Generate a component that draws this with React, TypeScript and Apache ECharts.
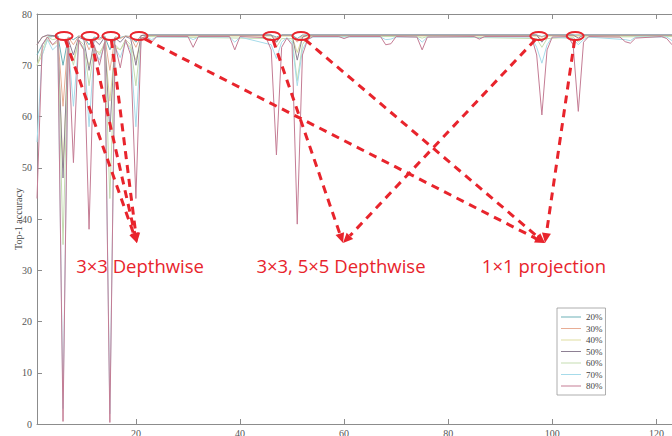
import React, { useEffect, useRef } from 'react';
import * as echarts from 'echarts';

// ---- data (layer index, Top-1 accuracy) ----
const seriesNames = ['20%', '30%', '40%', '50%', '60%', '70%', '80%'];
const seriesColors = ['#6cb0b6', '#e8ad95', '#dedc9e', '#8e8094', '#c4ddb0', '#a6dbea', '#c47c94'];

const s20: number[][] = [[1,72],[2,74],[3,75.5],[4,75.6],[5,75.7],[6,70],[7,75.5],[8,75],[9,75.7],[10,75.5],[11,74],[12,75.5],[13,75.3],[14,75.7],[15,73],[16,75.5],[17,75.4],[18,75.7],[19,75.6],[20,74.5],[21,75.8],[22,75.9],[46,75.9],[47,75.5],[48,75.9],[50,75.9],[51,75.2],[52,75.9],[97,75.9],[98,75.6],[99,75.9],[123,75.9]];
const s30: number[][] = [[1,74],[2,75.5],[3,75.8],[5,75.7],[6,62],[7,75.5],[8,74],[9,75.7],[10,75.5],[11,73],[12,75.3],[13,75],[14,75.6],[15,69],[16,75.5],[17,75.2],[18,75.7],[19,75.5],[20,73.5],[21,75.8],[46,75.8],[47,75.3],[48,75.8],[50,75.8],[51,74.5],[52,75.8],[97,75.8],[98,75.5],[99,75.8],[123,75.8]];
const s40: number[][] = [[1,70],[2,72],[3,75],[4,74],[5,74.5],[6,50],[7,73],[8,71],[9,74.5],[10,73],[11,70],[12,73],[13,72.5],[14,74],[15,63],[16,73.5],[17,73],[18,74.5],[19,73.5],[20,71],[21,75.2],[22,75.7],[46,75.7],[47,74.5],[48,75.7],[50,75.7],[51,72.5],[52,75.5],[53,75.7],[97,75.7],[98,75],[99,75.7],[123,75.7]];
const s50: number[][] = [[1,74],[2,75.5],[3,75.9],[5,75.7],[6,48],[7,75],[8,72],[9,75.5],[10,75],[11,69],[12,75],[13,74],[14,75.5],[15,57],[16,75.3],[17,74.5],[18,75.6],[19,75.2],[20,70],[21,75.8],[22,75.9],[46,75.9],[47,74.5],[48,75.9],[50,75.9],[51,71],[52,75.5],[53,75.9],[97,75.9],[98,74.5],[99,75.9],[104,75.9],[105,75.3],[106,75.9],[123,75.9]];
const s60: number[][] = [[1,70],[2,73],[3,75.5],[4,75],[5,75.2],[6,35],[7,74],[8,70],[9,75],[10,74],[11,66],[12,73.5],[13,72],[14,74.5],[15,44],[16,74],[17,73],[18,75],[19,74],[20,66],[21,75.3],[22,75.6],[46,75.2],[47,73.5],[48,75.2],[50,75.2],[51,67],[52,74],[53,75.6],[74,75.6],[75,75.3],[76,75.6],[97,75.2],[98,73.5],[99,75.2],[104,75.5],[105,74.5],[106,75.5],[123,75.6]];
const s70: number[][] = [[1,55],[2,72],[3,75],[4,73],[5,74],[6,3],[7,74],[8,62],[9,74.5],[10,73.5],[11,58],[12,73],[13,71],[14,74],[15,2],[16,73.5],[17,71.5],[18,74.5],[19,73],[20,58],[21,75],[22,75.5],[23,75],[24,75.5],[30,75.5],[31,75],[32,75.5],[38,75.5],[39,74.5],[40,75.5],[46,74],[47,71.3],[48,74.5],[49,75.4],[50,74.5],[51,66],[52,73],[53,75],[54,75.5],[67,75.5],[68,75],[69,75.1],[70,75.5],[74,75.5],[75,74.5],[76,75.5],[85,75.5],[86,75.3],[87,75.5],[96,75.5],[97,73.5],[98,70.4],[99,74],[100,75.5],[104,75.2],[105,74],[106,75],[107,75.5],[114,75],[115,74.8],[116,75.5],[122,75.5],[123,74.8]];
const s80: number[][] = [[1,44],[2,74],[3,75.5],[4,74],[5,75],[6,0.5],[7,75],[8,51],[9,75],[10,73],[11,38],[12,74],[13,70],[14,74.5],[15,0.3],[16,74],[17,69.5],[18,75],[19,72],[20,44],[21,75.3],[22,75.6],[23,74.5],[24,75.6],[30,75.6],[31,73.5],[32,75.6],[38,75.6],[39,73],[40,75.6],[45,75.4],[46,73],[47,52.5],[48,73.5],[49,75.3],[50,74],[51,39],[52,72],[53,75],[54,75.6],[59,75.6],[60,75.2],[61,75.6],[67,75.6],[68,74],[69,74.2],[70,75.6],[74,75.5],[75,73],[76,75.5],[85,75.6],[86,75.1],[87,75.6],[96,75.6],[97,72],[98,60.3],[99,73],[100,75.5],[103,75.6],[104,74],[105,61],[106,74.5],[107,75.6],[113,75.5],[114,74.6],[115,74.3],[116,75.3],[121,75.6],[122,75.2],[123,74]];
const seriesData = [s20, s30, s40, s50, s60, s70, s80];

const xMin = 1;
const xMax = 123;
const xTickValues = [20, 40, 60, 80, 100, 120];
const yMin = 0;
const yMax = 80;
const yInterval = 10;

// ---- annotations (in data coordinates) ----
const ellipseLayers = [6.2, 11.2, 15.2, 20.6, 46.1, 51.7, 97.4, 104.4];
const ellipseAcc = 75.7;
const arrowTargets = [[20.2, 35.3], [59.8, 35.3], [98.6, 35.3]];
const arrowSources = [[0, 1, 2], [4, 6], [3, 5, 7]];
const annotationLabels = ['3×3 Depthwise', '3×3, 5×5 Depthwise', '1×1 projection'];
const labelAnchors = [[20.8, 31], [59.4, 31], [98.4, 31]];

const SERIF = '"Liberation Serif", "DejaVu Serif", serif';
const RED = '#e8242c';

export default function App() {
  const ref = useRef<HTMLDivElement>(null);
  useEffect(() => {
    if (!ref.current) return;
    const chart = echarts.init(ref.current, undefined, { renderer: 'svg' });
    const axisColor = '#8c8c8c';
    const option: any = {
      animation: false,
      backgroundColor: '#ffffff',
      grid: { left: 37, right: 0, top: 14, bottom: 12, containLabel: false, outerBoundsMode: 'none' },
      xAxis: [
        {
          type: 'value', min: xMin, max: xMax, position: 'bottom',
          axisLine: { show: true, lineStyle: { color: axisColor, width: 1 } },
          axisTick: { show: true, inside: true, length: 5, customValues: xTickValues, lineStyle: { color: axisColor } },
          axisLabel: { customValues: xTickValues, fontFamily: SERIF, fontSize: 10, color: '#555', margin: 4 },
          splitLine: { show: false },
        },
        {
          type: 'value', min: xMin, max: xMax, position: 'top',
          axisLine: { show: true, lineStyle: { color: axisColor, width: 1 } },
          axisTick: { show: true, inside: true, length: 5, customValues: xTickValues, lineStyle: { color: axisColor } },
          axisLabel: { show: false },
          splitLine: { show: false },
        },
      ],
      yAxis: {
        type: 'value', min: yMin, max: yMax, interval: yInterval,
        axisLine: { show: true, lineStyle: { color: axisColor, width: 1 } },
        axisTick: { show: true, inside: true, length: 5, lineStyle: { color: axisColor } },
        axisLabel: { fontFamily: SERIF, fontSize: 10, color: '#555', margin: 5 },
        splitLine: { show: false },
        name: 'Top-1 accuracy', nameLocation: 'middle', nameGap: 14, nameMoveOverlap: false,
        nameTextStyle: { fontFamily: SERIF, fontSize: 10, color: '#444' },
      },
      legend: {
        orient: 'vertical', left: 557, top: 308,
        data: seriesNames.map((n) => ({ name: n, icon: 'rect' })),
        itemWidth: 20, itemHeight: 1, itemGap: 1.5,
        padding: [4, 3, 4, 4],
        borderColor: '#999', borderWidth: 0.8, backgroundColor: '#fff',
        textStyle: { fontFamily: SERIF, fontSize: 9, color: '#444', lineHeight: 10 },
      },
      series: seriesNames.map((name, i) => ({
        name, type: 'line', xAxisIndex: 0, data: seriesData[i],
        symbol: 'none', showSymbol: false,
        lineStyle: { color: seriesColors[i], width: 1 },
        itemStyle: { color: seriesColors[i] },
        z: 2 + i,
      })),
    };
    chart.setOption(option);

    const toPx = (p: number[]) => chart.convertToPixel({ seriesIndex: 0 }, p) as number[];
    const rx = 8.5, ry = 4;
    const graphics: any[] = [];
    const centers = ellipseLayers.map((l) => toPx([l, ellipseAcc]));
    arrowTargets.forEach((t, k) => {
      const tip = toPx(t);
      arrowSources[k].forEach((si) => {
        const c = centers[si];
        const dx = tip[0] - c[0], dy = tip[1] - c[1];
        const len = Math.sqrt(dx * dx + dy * dy);
        const ux = dx / len, uy = dy / len;
        const tt = 1 / Math.sqrt((ux / rx) ** 2 + (uy / ry) ** 2);
        const sx = c[0] + ux * tt, sy = c[1] + uy * tt;
        const headLen = 10, headW = 4.5;
        const bx = tip[0] - ux * headLen, by = tip[1] - uy * headLen;
        graphics.push({
          type: 'line', z: 100,
          shape: { x1: sx, y1: sy, x2: bx, y2: by },
          style: { stroke: RED, lineWidth: 3, lineDash: [8, 6] },
        });
        graphics.push({
          type: 'polygon', z: 100,
          shape: { points: [[tip[0], tip[1]], [bx - uy * headW, by + ux * headW], [bx + uy * headW, by - ux * headW]] },
          style: { fill: RED },
        });
      });
    });
    centers.forEach((c) => {
      graphics.push({
        type: 'ellipse', z: 101,
        shape: { cx: c[0], cy: c[1], rx, ry },
        style: { fill: 'none', stroke: RED, lineWidth: 2 },
      });
    });
    annotationLabels.forEach((txt, k) => {
      const p = toPx(labelAnchors[k]);
      graphics.push({
        type: 'text', z: 102, x: p[0], y: p[1],
        style: { text: txt, fill: RED, fontSize: 18.5, fontFamily: '"Open Sans", "Noto Sans", sans-serif', align: 'center', verticalAlign: 'middle' },
      });
    });
    chart.setOption({ graphic: graphics });

    return () => chart.dispose();
  }, []);
  return <div ref={ref} style={{ position: 'fixed', left: 0, top: 0, width: 672, height: 436 }} />;
}
